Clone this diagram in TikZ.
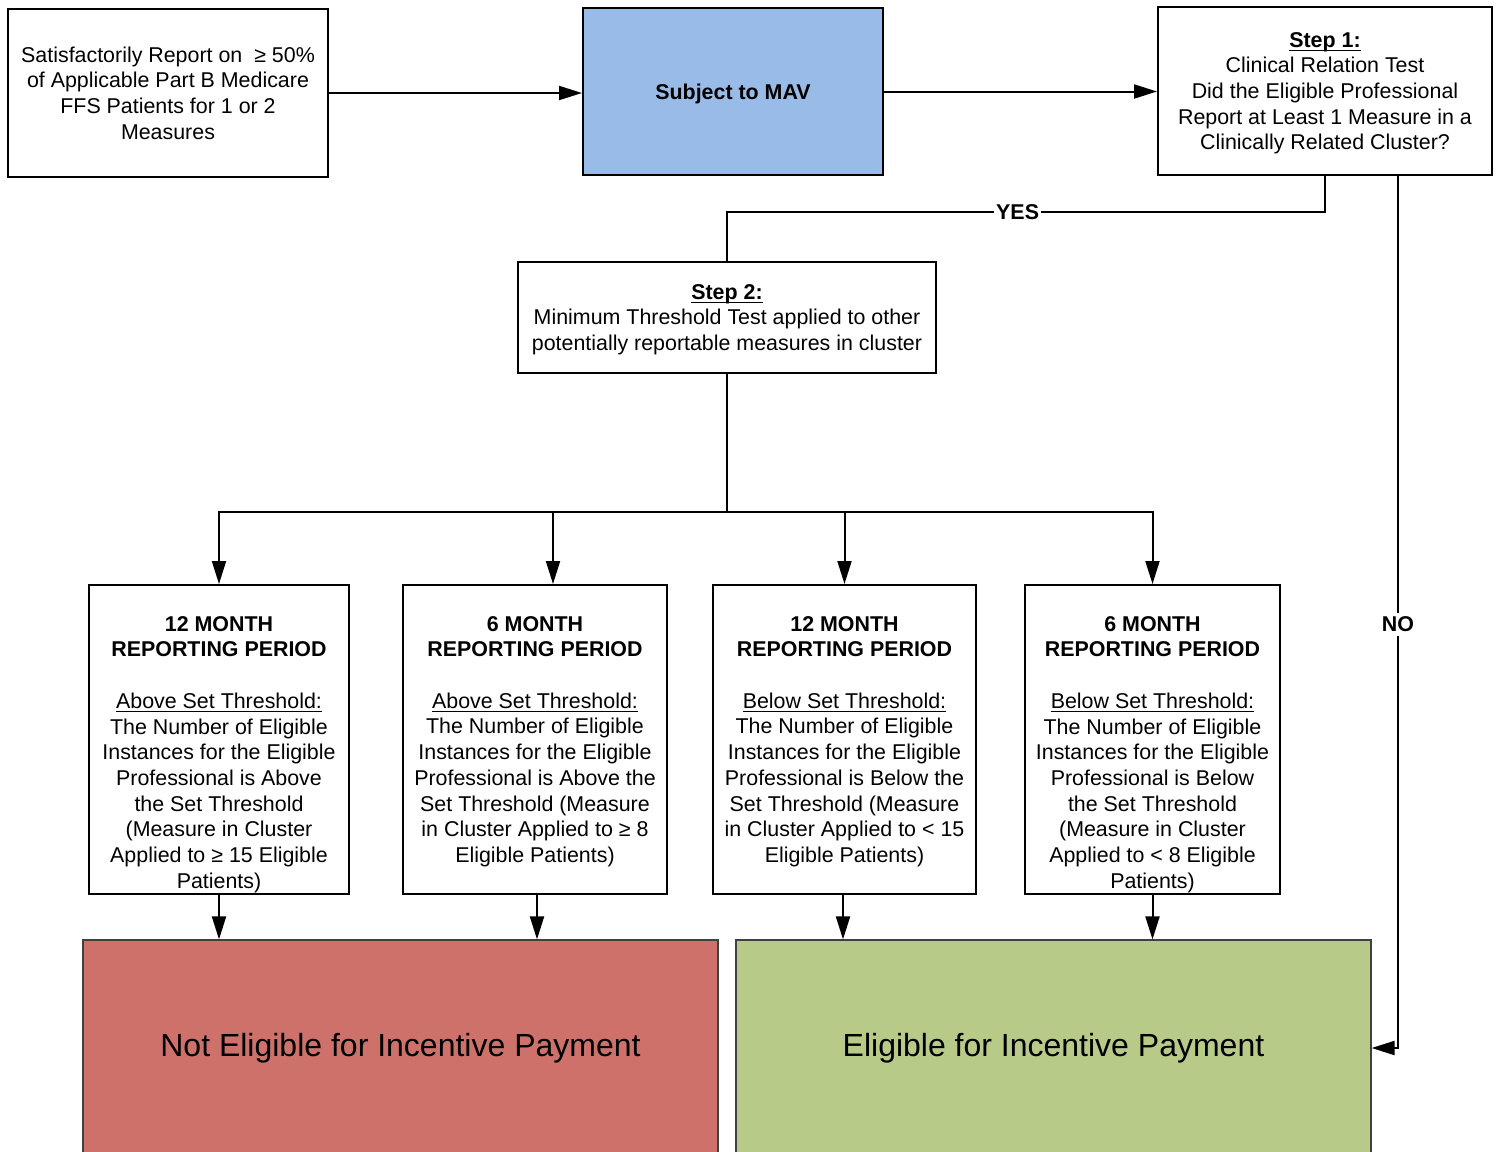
\documentclass[tikz,border=0pt]{standalone}
\usepackage{fontspec}
\setmainfont{Liberation Sans}
\usetikzlibrary{arrows.meta,calc}
\definecolor{mavblue}{HTML}{99BBE8}
\definecolor{nored}{HTML}{CD716A}
\definecolor{yesgreen}{HTML}{B8CA88}
\newcommand{\myul}[1]{\setbox0\hbox{#1}\rlap{\rule[-1.9pt]{\wd0}{0.6pt}}\box0}
\begin{document}
\begin{tikzpicture}[x=0.5pt,y=-0.5pt,
  every node/.style={font=\fontsize{10.7}{12.85}\selectfont},
  box/.style={draw=black,line width=1pt,rectangle,inner sep=0pt,align=center},
  final/.style={draw=black!75,line width=0.6pt,rectangle,inner sep=0pt,align=center,
    minimum width=317.5pt,minimum height=108pt,font=\fontsize{16}{18}\selectfont},
  txt/.style={align=center,inner sep=0pt},
  lbl/.style={fill=white,inner sep=1pt,font=\fontsize{10.7}{12.85}\selectfont\bfseries},
  arr/.style={line width=1pt,-{Triangle[length=11.5pt,width=7pt]}},
  ln/.style={line width=1pt}]
\useasboundingbox (0,0) rectangle (1496,1152);

\node[box,minimum width=160pt,minimum height=84pt] (A) at (168,93)
  {Satisfactorily Report on\ \ ≥ 50\%\\of Applicable Part B Medicare\\FFS Patients for 1 or 2\\Measures};
\node[box,fill=mavblue,minimum width=150pt,minimum height=83.5pt,text depth=0pt] (M) at (733,91.5)
  {\bfseries Subject to MAV};
\node[box,minimum width=167pt,minimum height=84pt] (S1) at (1325,91)
  {\rule{0pt}{9.7pt}\myul{\bfseries Step 1:}\\Clinical Relation Test\\Did the Eligible Professional\\Report at Least 1 Measure in a\\Clinically Related Cluster?};
\node[box,minimum width=209pt,minimum height=55.5pt] (S2) at (727,317.5)
  {\rule{0pt}{9.7pt}\myul{\bfseries Step 2:}\\Minimum Threshold Test applied to other\\potentially reportable measures in cluster};

\node[box,minimum width=130pt,minimum height=154.5pt] (P1) at (219,739.5) {};
\node[box,minimum width=132pt,minimum height=154.5pt] (P2) at (535,739.5) {};
\node[box,minimum width=131.5pt,minimum height=154.5pt] (P3) at (844.5,739.5) {};
\node[box,minimum width=127.5pt,minimum height=154.5pt] (P4) at (1152.5,739.5) {};

\node[txt] (T1) at (219,754.5) {\bfseries 12 MONTH\\\bfseries REPORTING PERIOD\\[12.85pt]\myul{Above Set Threshold:}\\The Number of Eligible\\Instances for the Eligible\\Professional is Above\\the Set Threshold\\(Measure in Cluster\\Applied to ≥ 15 Eligible\\Patients)};
\node[txt] (T2) at (535,741.5) {\bfseries 6 MONTH\\\bfseries REPORTING PERIOD\\[12.85pt]\myul{Above Set Threshold:}\\The Number of Eligible\\Instances for the Eligible\\Professional is Above the\\Set Threshold (Measure\\in Cluster Applied to ≥ 8\\Eligible Patients)};
\node[txt] (T3) at (844.5,741.5) {\bfseries 12 MONTH\\\bfseries REPORTING PERIOD\\[12.85pt]\myul{Below Set Threshold:}\\The Number of Eligible\\Instances for the Eligible\\Professional is Below the\\Set Threshold (Measure\\in Cluster Applied to < 15\\Eligible Patients)};
\node[txt] (T4) at (1152.5,754.5) {\bfseries 6 MONTH\\\bfseries REPORTING PERIOD\\[12.85pt]\myul{Below Set Threshold:}\\The Number of Eligible\\Instances for the Eligible\\Professional is Below\\the Set Threshold\\(Measure in Cluster\\Applied to < 8 Eligible\\Patients)};

\node[final,fill=nored] (R) at (400.5,1048) {Not Eligible for Incentive Payment};
\node[final,fill=yesgreen] (G) at (1053.5,1048) {Eligible for Incentive Payment};

% connectors
\draw[arr] (A.east) -- (A.east -| M.west);
\draw[arr] (M.east) -- (M.east -| S1.west);
\draw[ln] (S1.south) -- ++(0,36) -| node[lbl,pos=0.257] (yes) {YES} (S2.north);
\coordinate (noStart) at ($(S1.south)+(73,0)$);
\draw[arr] (noStart) |- node[lbl,pos=0.257,inner sep=2pt] (no) {NO} (G.east);

\coordinate (J) at ($(S2.south)+(0,138)$);
\draw[ln] (S2.south) -- (J);
\draw[arr] (J) -| (P1.north);
\draw[arr] (J) -| ($(P2.north)+(18,0)$);
\draw[arr] (J) -| (P3.north);
\draw[arr] (J) -| (P4.north);

\draw[arr] (P1.south) -- (P1.south |- R.north);
\draw[arr] ($(P2.south)+(2,0)$) -- ($(P2.south |- R.north)+(2,0)$);
\draw[arr] ($(P3.south)+(-1.5,0)$) -- ($(P3.south |- G.north)+(-1.5,0)$);
\draw[arr] (P4.south) -- (P4.south |- G.north);
\end{tikzpicture}
\end{document}
